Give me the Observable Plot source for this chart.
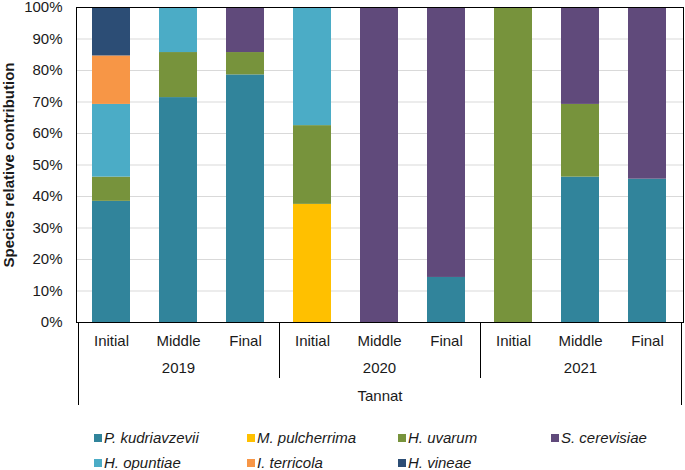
<!DOCTYPE html>
<html>
<head>
<meta charset="utf-8">
<script src="https://cdn.jsdelivr.net/npm/d3@7"></script>
<script src="https://cdn.jsdelivr.net/npm/@observablehq/plot@0.6"></script>
<style>
  body { margin: 0; background: #fff; font-family: "Liberation Sans", Arial, sans-serif; }
  #chart { width: 685px; }
  #chart svg { overflow: visible; }
  .legend {
    display: grid;
    grid-template-columns: 153px 151px 153px 134px;
    padding: 10px 0 0 94px;
  }
  .item {
    height: 25px; display: flex; align-items: center;
    font-style: italic; font-size: 15px; color: #1a1a1a; white-space: nowrap;
  }
  .swatch { width: 8px; height: 8px; margin-right: 2px; flex: none; }
</style>
</head>
<body>
<div id="chart"></div>
<script>
// Sampling campaigns and fermentation stages
const years = ["2019", "2020", "2021"];
const stages = ["Initial", "Middle", "Final"];

// Yeast species (stacking and legend order) and their colours
const species = ["P. kudriavzevii", "M. pulcherrima", "H. uvarum", "S. cerevisiae",
                 "H. opuntiae", "I. terricola", "H. vineae"];
const colors = ["#31849b", "#ffc000", "#77933c", "#604a7b", "#4bacc6", "#f79646", "#2c4d75"];

// Share of isolates (%) per species, one value per sample:
// 2019 Initial, Middle, Final, 2020 Initial, Middle, Final, 2021 Initial, Middle, Final
const pKudriavzevii = [38.5, 71.4, 78.6, 0, 0, 14.3, 0, 46.2, 45.5];
const mPulcherrima  = [0, 0, 0, 37.5, 0, 0, 0, 0, 0];
const hUvarum       = [7.7, 14.3, 7.1, 25.0, 0, 0, 100, 23.1, 0];
const sCerevisiae   = [0, 0, 14.3, 0, 100, 85.7, 0, 30.8, 54.5];
const hOpuntiae     = [23.1, 14.3, 0, 37.5, 0, 0, 0, 0, 0];
const iTerricola    = [15.4, 0, 0, 0, 0, 0, 0, 0, 0];
const hVineae       = [15.4, 0, 0, 0, 0, 0, 0, 0, 0];

const yTicks = [0, 0.1, 0.2, 0.3, 0.4, 0.5, 0.6, 0.7, 0.8, 0.9, 1];
const variety = "Tannat";
const yLabel = "Species relative contribution";

const samples = years.flatMap(y => stages.map(s => `${y} ${s}`));
const series = [pKudriavzevii, mPulcherrima, hUvarum, sCerevisiae, hOpuntiae, iTerricola, hVineae];
const rows = species.flatMap((sp, i) =>
  samples.map((sample, j) => ({sample, species: sp, value: series[i][j]}))
).filter(d => d.value > 0);

// Vertical dividers of the grouped category axis: outer edges and year boundaries
function dividers(index, scales, values, dims) {
  const x = scales.x;
  const step = x(samples[1]) - x(samples[0]);
  const bw = typeof x.bandwidth === "function" ? x.bandwidth() : scales.scales.x.bandwidth;
  const gap = (step - bw) / 2;
  const base = dims.height - dims.marginBottom;
  const g = d3.create("svg:g").attr("stroke", "#000").attr("stroke-width", 1);
  for (let i = 0; i <= years.length; i++) {
    const xp = i < years.length
      ? x(samples[i * stages.length]) - gap
      : x(samples[samples.length - 1]) + bw + gap;
    const outer = i === 0 || i === years.length;
    const px = Math.round(xp) + 0.5;
    g.append("line")
      .attr("x1", px).attr("x2", px)
      .attr("y1", base).attr("y2", base + (outer ? 83 : 56));
  }
  return g.node();
}

const chart = Plot.plot({
  width: 685,
  height: 415,
  marginLeft: 76,
  marginRight: 2,
  marginTop: 7,
  marginBottom: 93,
  style: {fontFamily: '"Liberation Sans", Arial, sans-serif', fontSize: "15px", color: "#1a1a1a", background: "#fff"},
  x: {domain: samples, paddingInner: 0.43, paddingOuter: 0.215},
  y: {domain: [0, 1]},
  color: {domain: species, range: colors},
  marks: [
    Plot.gridY(yTicks.slice(1, -1), {stroke: "#d9d9d9", strokeOpacity: 1, strokeWidth: 1}),
    Plot.barY(rows, Plot.stackY({x: "sample", y: "value", fill: "species", offset: "normalize"})),
    Plot.frame({stroke: "#000"}),
    Plot.axisY(yTicks, {tickSize: 0, tickPadding: 14, fontSize: 15, label: null,
      tickFormat: d => `${Math.round(d * 100)}%`}),
    Plot.axisX({tickSize: 0, tickPadding: 13, fontSize: 15, label: null,
      tickFormat: k => k.split(" ")[1]}),
    Plot.text(years, {x: y => `${y} Middle`, frameAnchor: "bottom", dy: 46,
      lineAnchor: "middle", fontSize: 15}),
    Plot.text([variety], {frameAnchor: "bottom", dy: 74, lineAnchor: "middle", fontSize: 15}),
    Plot.text([yLabel], {frameAnchor: "left", rotate: -90, dx: -67, textAnchor: "middle",
      lineAnchor: "middle", fontSize: 15, fontWeight: "bold"}),
    dividers
  ]
});
document.getElementById("chart").append(chart);

// Legend below the chart
const legend = d3.select("#chart").append("div").attr("class", "legend");
species.forEach((sp, i) => {
  const item = legend.append("div").attr("class", "item");
  item.append("span").attr("class", "swatch").style("background", colors[i]);
  item.append("span").text(sp);
});
</script>
</body>
</html>
